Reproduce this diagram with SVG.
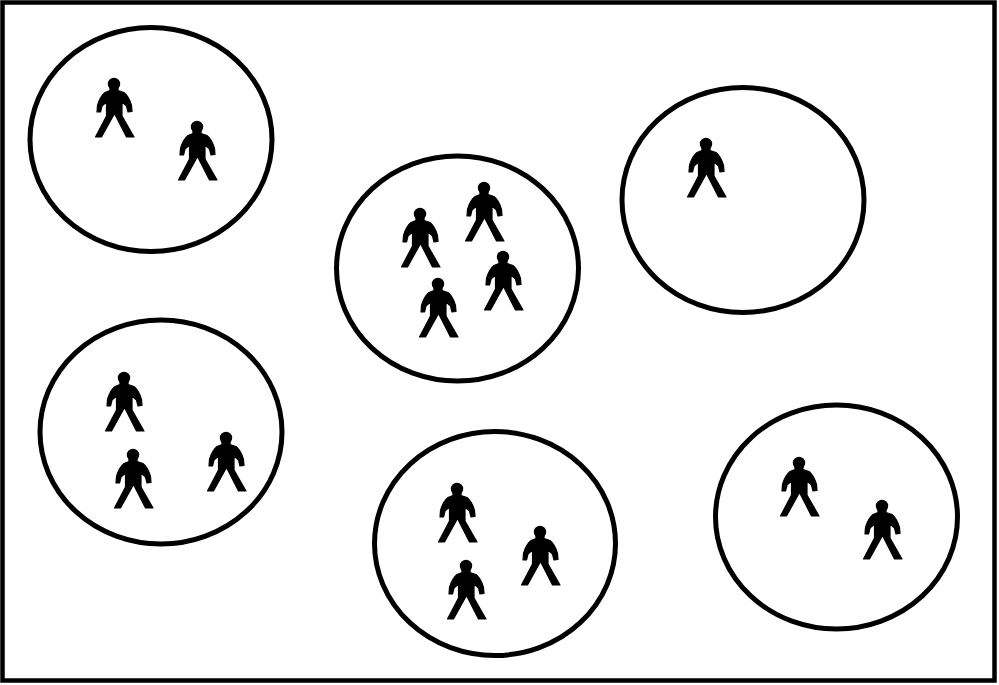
<svg xmlns="http://www.w3.org/2000/svg" xmlns:xlink="http://www.w3.org/1999/xlink" width="999" height="685" viewBox="0 0 999 685">
<style>
.g{fill:none;stroke:#000;stroke-width:5}
.p{fill:#000;stroke:#000;stroke-width:1.2;stroke-linejoin:round}
</style>
<defs>
<g id="person">
<circle class="p" cx="0" cy="0" r="5.6"/>
<path class="p" d="M-4,3 L-4,6.5 L-9,8.5 Q-14,12.5 -16.5,21.5 L-17,28 L-13.5,28 L-12,22 L-7.5,18 L-7.5,32 L-18.5,53 L-12.5,53 L0.5,29.5 L12.5,53 L20,53 L8,32 L8,18 L12.5,22 L14,28 L18,27.5 L17.5,21.5 Q15,12.5 10,8.5 L4,6.5 L4,3 Z"/>
</g>
</defs>
<rect width="999" height="685" fill="#fff"/>
<rect id="frame" x="2.5" y="2.5" width="992" height="678" fill="none" stroke="#000" stroke-width="4.5"/>
<g id="group-1"><ellipse class="g" cx="151" cy="139.5" rx="121" ry="112"/><use href="#person" x="114" y="84"/><use href="#person" x="197" y="127"/></g>
<g id="group-2"><ellipse class="g" cx="457.5" cy="268.5" rx="121" ry="112.5"/><use href="#person" x="420" y="214"/><use href="#person" x="484" y="188"/><use href="#person" x="503" y="257"/><use href="#person" x="438" y="284"/></g>
<g id="group-3"><ellipse class="g" cx="743" cy="200" rx="121" ry="112.5"/><use href="#person" x="706" y="144"/></g>
<g id="group-4"><ellipse class="g" cx="161" cy="432" rx="121" ry="112"/><use href="#person" x="124" y="378"/><use href="#person" x="133" y="455"/><use href="#person" x="226" y="438"/></g>
<g id="group-5"><ellipse class="g" cx="495" cy="543.5" rx="120.5" ry="112"/><use href="#person" x="457" y="489"/><use href="#person" x="540" y="532"/><use href="#person" x="466" y="566"/></g>
<g id="group-6"><ellipse class="g" cx="836.5" cy="517" rx="121" ry="112"/><use href="#person" x="799" y="463"/><use href="#person" x="882" y="506"/></g>
</svg>
